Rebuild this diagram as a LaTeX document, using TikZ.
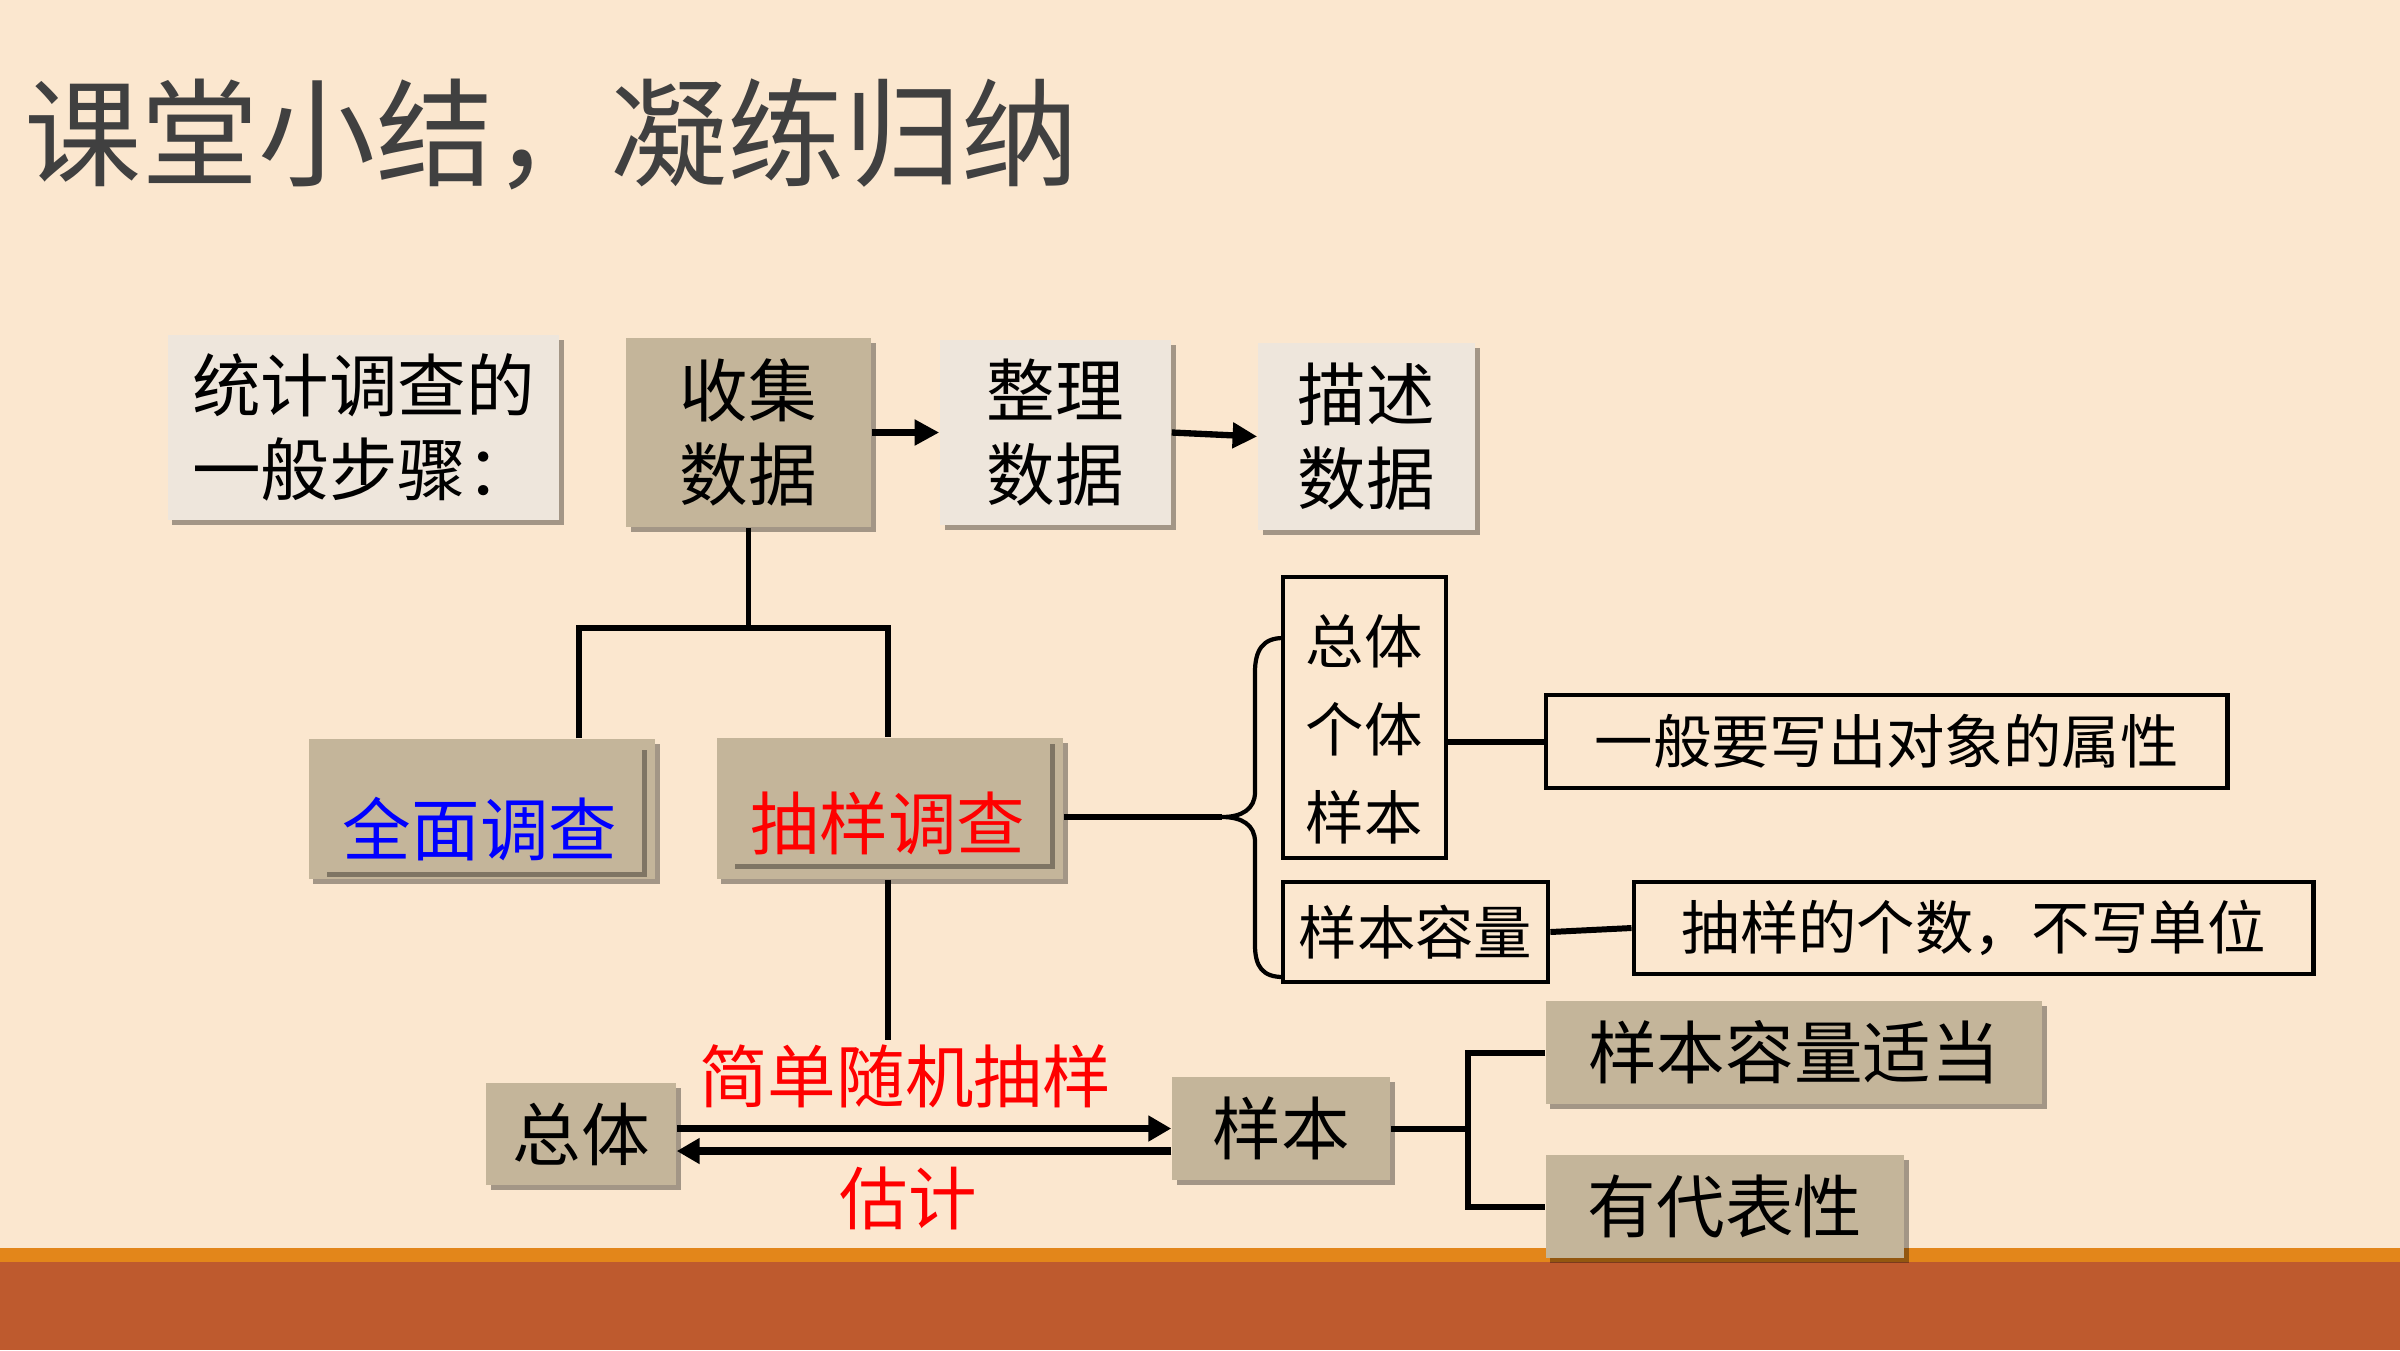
\documentclass[tikz,border=0pt]{standalone}
\usepackage{fontspec}
\setmainfont{Noto Sans CJK SC}
\usetikzlibrary{arrows.meta,shadows,calc}
\definecolor{bg}{HTML}{FBE7CF}
\definecolor{boxtan}{HTML}{C4B59A}
\definecolor{boxlight}{HTML}{EEE6DC}
\definecolor{stripe}{HTML}{E3861A}
\definecolor{bar}{HTML}{BE5A2E}
\definecolor{titlegray}{HTML}{404040}
\begin{document}
\begin{tikzpicture}[x=0.01cm,y=-0.01cm,
 shad/.style={drop shadow={shadow xshift=1.3pt,shadow yshift=-1.3pt,opacity=0.35,fill=black}},
 lbox/.style={fill=boxlight,shad,inner sep=0pt,align=center,font=\fontsize{19.5}{24}\selectfont},
 tbox/.style={fill=boxtan,shad,inner sep=0pt,align=center,font=\fontsize{19.5}{24}\selectfont},
 obox/.style={draw=black,line width=1.3pt,inner sep=0pt,align=center,font=\fontsize{16.6}{25}\selectfont},
 txt/.style={inner sep=0pt,align=center,font=\fontsize{19.5}{24}\selectfont},
 stxt/.style={inner sep=0pt,align=center,font=\fontsize{16.6}{25}\selectfont},
 tree/.style={line width=1.7pt},
 bracepath/.style={line width=1.2pt},
 arr/.style={line width=1.8pt,-{Triangle[length=7pt,width=7pt]}},
 barr/.style={line width=2.1pt,-{Triangle[length=6.5pt,width=7pt]}},
]
% background
\fill[bg] (0,0) rectangle (2400,1350);
\useasboundingbox (0,0) rectangle (2400,1350);
\fill[stripe] (0,1248) rectangle (2400,1262);
\fill[bar] (0,1262) rectangle (2400,1350);

% title
\node[anchor=west,inner sep=0pt,text=titlegray,font=\fontsize{33.3}{40}\selectfont] (title) at (24,134) {课堂小结，凝练归纳};

% top row
\node[lbox,minimum width=3.91cm,minimum height=1.85cm,align=left] (steps) at (363.5,427.5) {统计调查的\\一般步骤：};
\node[tbox,minimum width=2.45cm,minimum height=1.89cm] (collect) at (748.5,432.5) {收集\\数据};
\node[lbox,minimum width=2.31cm,minimum height=1.85cm] (organize) at (1055.5,432.5) {整理\\数据};
\node[lbox,minimum width=2.17cm,minimum height=1.87cm] (describe) at (1366.5,436.5) {描述\\数据};
\draw[arr] (collect.east) -- (organize.west);
\draw[arr] (organize.east) -- (describe.west);

% survey types
\node[tbox,minimum width=3.46cm,minimum height=1.40cm] (full) at (482,809) {};
\node[tbox,minimum width=3.19cm,minimum height=1.27cm] (fullin) at (482.5,808.5) {};
\node[txt,text=blue] (fullt) at (480,829) {全面调查};
\node[tbox,minimum width=3.46cm,minimum height=1.41cm] (samp) at (890,808.5) {};
\node[tbox,minimum width=3.19cm,minimum height=1.25cm] (sampin) at (890.5,801.5) {};
\node[txt,text=red] (sampt) at (888,823) {抽样调查};

\coordinate (tl) at (579,628);
\coordinate (tr) at (888,628);
\draw[tree] (collect.south) -- (collect.south |- tl);
\draw[tree] (tl |- full.north) -- (tl) -- (tr) -- (tr |- samp.north);
\coordinate (sdown) at (888,1040);
\draw[tree] (sdown |- samp.south) -- (sdown);

% brace and concept boxes
\coordinate (btip) at (1222,817);
\draw[tree] (samp.east |- btip) -- (btip);
\draw[bracepath] (1283,638) .. controls (1263,638) and (1255,650) .. (1255,672)
  -- (1255,792) .. controls (1255,809) and (1242,817) .. (btip)
  .. controls (1242,817) and (1255,825) .. (1255,842)
  -- (1255,945) .. controls (1255,967) and (1263,977) .. (1283,977);

\node[obox,minimum width=1.63cm,minimum height=2.81cm] (concepts) at (1364.5,717.5) {};
\node[stxt] (conceptst) at (1364,729) {总体\\个体\\样本};
\node[obox,minimum width=6.81cm,minimum height=0.93cm] (attr) at (1886.5,741.5) {一般要写出对象的属性};
\draw[tree] (concepts.east |- attr.west) -- (attr.west);

\node[obox,minimum width=2.65cm,minimum height=1.00cm] (size) at (1415.5,932) {样本容量};
\node[obox,minimum width=6.79cm,minimum height=0.92cm] (count) at (1973.5,928) {抽样的个数，不写单位};
\draw[tree] (size.east) -- (count.west);

% bottom
\node[tbox,minimum width=1.90cm,minimum height=1.02cm] (pop) at (581,1134) {总体};
\node[tbox,minimum width=2.18cm,minimum height=1.03cm] (smp) at (1281,1128.5) {样本};
\draw[barr] (pop.east |- smp.west) -- (smp.west);
\coordinate (lr) at ([yshift=-6.4pt]smp.west);
\draw[barr] (lr) -- (lr -| pop.east);
\node[txt,text=red] (srs) at (905,1076) {简单随机抽样};
\node[txt,text=red] (est) at (908,1198) {估计};

\node[tbox,minimum width=4.96cm,minimum height=1.03cm] (fit) at (1794,1052.5) {样本容量适当};
\node[tbox,minimum width=3.58cm,minimum height=1.03cm] (rep) at (1725,1206.5) {有代表性};
\coordinate (rj) at (1468,1128.5);
\draw[tree] (smp.east) -- (rj);
\draw[tree] (fit.west) -- (fit.west -| rj) -- (rep.west -| rj) -- (rep.west);
\end{tikzpicture}
\end{document}
